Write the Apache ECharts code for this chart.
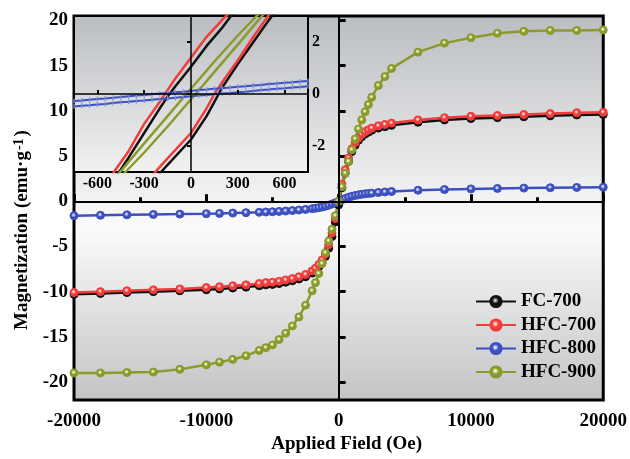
<!DOCTYPE html>
<html>
<head>
<meta charset="utf-8">
<script src="https://cdn.jsdelivr.net/npm/echarts@6/dist/echarts.min.js"></script>
<style>
html, body { margin: 0; padding: 0; background: #fff; width: 630px; height: 459px; overflow: hidden; }
#chart { position: absolute; left: 0; top: 0; width: 630px; height: 459px; }
</style>
</head>
<body>
<div id="chart"></div>
<script>
// main M-H curves (Oe, emu/g)
const fieldMain = [-20000, -18000, -16000, -14000, -12000, -10000, -9000, -8000, -7000, -6000,
    -5500, -5000, -4500, -4000, -3500, -3000, -2500, -2000, -1750, -1500, -1250, -1000, -750, -500, -250,
    0, 250, 500, 750, 1000, 1250, 1500, 1750, 2000, 2250, 2500, 3000, 3500, 4000,
    6000, 8000, 10000, 12000, 14000, 16000, 18000, 20000];

const fc700 = [-10.3, -10.2, -10.1, -10.0, -9.9, -9.8, -9.7, -9.6, -9.5, -9.35,
    -9.25, -9.2, -9.1, -8.95, -8.8, -8.6, -8.35, -7.95, -7.65, -7.25, -6.8, -6.1, -5.2, -3.9, -2.3,
    -0.4, 1.5, 3.1, 4.4, 5.5, 6.2, 6.75, 7.15, 7.45, 7.65, 7.85, 8.1, 8.25, 8.4,
    8.75, 9.0, 9.15, 9.25, 9.35, 9.45, 9.55, 9.6];

const hfc700 = [-10.1, -10.0, -9.9, -9.8, -9.7, -9.55, -9.45, -9.35, -9.25, -9.1,
    -9.0, -8.95, -8.85, -8.7, -8.55, -8.35, -8.1, -7.7, -7.4, -7.0, -6.5, -5.8, -4.8, -3.5, -1.9,
    0, 1.9, 3.5, 4.8, 5.8, 6.5, 7.0, 7.4, 7.7, 7.9, 8.1, 8.35, 8.5, 8.65,
    9.0, 9.25, 9.4, 9.5, 9.6, 9.7, 9.8, 9.85];

const hfc800 = [-1.6, -1.55, -1.5, -1.46, -1.42, -1.37, -1.34, -1.3, -1.26, -1.22,
    -1.19, -1.16, -1.12, -1.08, -1.03, -0.97, -0.9, -0.82, -0.77, -0.71, -0.64, -0.55, -0.44, -0.31, -0.16,
    0, 0.16, 0.31, 0.44, 0.55, 0.64, 0.71, 0.77, 0.82, 0.86, 0.9, 0.97, 1.03, 1.08,
    1.22, 1.3, 1.37, 1.42, 1.46, 1.5, 1.53, 1.56];

const hfc900 = [-19.0, -19.0, -18.95, -18.9, -18.6, -18.1, -17.8, -17.5, -17.1, -16.5,
    -16.2, -15.9, -15.3, -14.6, -13.8, -12.8, -11.5, -9.9, -9.0, -8.0, -6.9, -5.7, -4.4, -3.1, -1.6,
    0, 1.6, 3.1, 4.4, 5.7, 6.9, 8.0, 9.0, 9.9, 10.7, 11.5, 12.8, 13.8, 14.7,
    16.5, 17.5, 18.1, 18.6, 18.8, 18.9, 18.9, 18.95];

// inset loops, [field, M] per branch
const fc700Down = [[300, 3.3], [250, 2.95], [200, 2.55], [100, 1.85], [0, 1.05], [-100, 0.3], [-150, -0.1],
    [-200, -0.55], [-300, -1.5], [-400, -2.45], [-450, -2.9], [-500, -3.3]];
const fc700Up = [[-250, -3.4], [-200, -3.05], [-100, -2.4], [0, -1.75], [100, -0.85], [150, -0.3], [200, 0.25],
    [300, 1.15], [400, 2.0], [500, 2.85], [550, 3.25]];
const hfc700Down = [[250, 3.15], [200, 2.85], [100, 2.2], [0, 1.4], [-100, 0.6], [-150, 0.15], [-200, -0.3],
    [-300, -1.15], [-400, -2.2], [-500, -3.05], [-550, -3.4]];
const hfc700Up = [[-250, -3.15], [-200, -2.8], [-100, -2.15], [0, -1.5], [100, -0.55], [150, 0], [200, 0.45],
    [300, 1.3], [400, 2.2], [500, 3.05], [550, 3.4]];
const hfc900Down = [[500, 3.45], [420, 3.0], [300, 2.25], [150, 1.25], [0, 0.2], [-30, 0], [-150, -0.85],
    [-300, -1.9], [-440, -2.9], [-500, -3.3]];
const hfc900Up = [[-500, -3.45], [-420, -3.0], [-300, -2.25], [-150, -1.25], [0, -0.2], [30, 0], [150, 0.85],
    [300, 1.9], [440, 2.9], [500, 3.3]];

const fieldBlue = [-750, -700, -650, -600, -550, -500, -450, -400, -350, -300, -250, -200, -150, -100, -50,
    0, 50, 100, 150, 200, 250, 300, 350, 400, 450, 500, 550, 600, 650, 700, 750];
const hfc800Down = [-0.27, -0.25, -0.22, -0.19, -0.17, -0.14, -0.12, -0.09, -0.06, -0.04, -0.01, 0.02, 0.04, 0.07, 0.09,
    0.12, 0.15, 0.17, 0.20, 0.22, 0.25, 0.28, 0.30, 0.33, 0.35, 0.38, 0.40, 0.43, 0.45, 0.48, 0.50];
const hfc800Up = [-0.48, -0.45, -0.43, -0.40, -0.38, -0.35, -0.32, -0.30, -0.27, -0.25, -0.22, -0.19, -0.17, -0.14, -0.12,
    -0.09, -0.06, -0.04, -0.01, 0.02, 0.04, 0.07, 0.09, 0.12, 0.15, 0.17, 0.20, 0.22, 0.25, 0.27, 0.30];

const names = ["FC-700", "HFC-700", "HFC-800", "HFC-900"];
const colors = ["#111111", "#f23c3c", "#3c50c0", "#8c9a2c"];
const tints = ["#9a9a9a", "#ffb8b8", "#b8c2f0", "#dde4a8"];

const yTicks = [-20, -15, -10, -5, 0, 5, 10, 15, 20];
const insetXTicks = [-600, -300, 0, 300, 600];
const insetYTicks = [-2, 0, 2];

const serif = "Liberation Serif";

function pairs(xs, ys) {
    return xs.map(function (x, i) { return [x, ys[i]]; });
}

function bead(i) {
    return {
        type: "radial", x: 0.45, y: 0.42, r: 0.55,
        colorStops: [{offset: 0, color: "#ffffff"}, {offset: 0.18, color: tints[i]},
                     {offset: 0.45, color: colors[i]}, {offset: 1, color: colors[i]}]
    };
}

function mainSeries(i, values) {
    return {
        name: names[i], type: "line", xAxisIndex: 0, yAxisIndex: 0, z: 2,
        data: pairs(fieldMain, values),
        symbol: "circle", symbolSize: 8,
        lineStyle: {color: colors[i], width: 2.5},
        itemStyle: {color: bead(i), borderColor: colors[i], borderWidth: 1}
    };
}

function insetSeries(name, i, data) {
    return {
        name: name, type: "line", xAxisIndex: 1, yAxisIndex: 1, z: 4,
        data: data, symbol: "none", clip: true,
        lineStyle: {color: colors[i], width: 2.5}
    };
}

const labelFont = {color: "#000", fontFamily: serif, fontWeight: "bold", fontSize: 19};
const insetFont = {color: "#000", fontFamily: serif, fontWeight: "bold", fontSize: 16};

const series = [
    mainSeries(0, fc700),
    mainSeries(1, hfc700),
    mainSeries(2, hfc800),
    mainSeries(3, hfc900),
    insetSeries("fc700 down", 0, fc700Down),
    insetSeries("fc700 up", 0, fc700Up),
    insetSeries("hfc700 down", 1, hfc700Down),
    insetSeries("hfc700 up", 1, hfc700Up),
    insetSeries("hfc900 down", 3, hfc900Down),
    insetSeries("hfc900 up", 3, hfc900Up),
    insetSeries("hfc800 down", 2, pairs(fieldBlue, hfc800Down)),
    insetSeries("hfc800 up", 2, pairs(fieldBlue, hfc800Up))
];

// zero lines
series[0].markLine = {
    silent: true, symbol: "none", label: {show: false},
    lineStyle: {color: "#000", width: 2, type: "solid"},
    data: [{xAxis: 0}, {yAxis: 0}]
};
series[4].markLine = {
    silent: true, symbol: "none", label: {show: false},
    lineStyle: {color: "#000", width: 1.5, type: "solid"},
    data: [{xAxis: 0}, {yAxis: 0}]
};
// tiny tick-like markers on the blue inset loop
[10, 11].forEach(function (k) {
    series[k].symbol = "rect";
    series[k].symbolSize = [1.2, 5];
    series[k].lineStyle.width = 2;
    series[k].itemStyle = {color: "#8090e0"};
});

const chart = echarts.init(document.getElementById("chart"));
chart.setOption({
    animation: false,
    backgroundColor: "#ffffff",
    grid: [
        {
            left: 74, right: 25, top: 16, bottom: 52, z: 0, show: true,
            borderColor: "#000", borderWidth: 3,
            backgroundColor: {
                type: "linear", x: 0, y: 0, x2: 0, y2: 1,
                colorStops: [{offset: 0, color: "#babdc1"}, {offset: 0.55, color: "#fbfbfb"},
                             {offset: 1, color: "#c2c3c5"}]
            }
        },
        {
            left: 74, top: 16, width: 234, height: 156, z: 3, show: true,
            borderColor: "#000", borderWidth: 2,
            backgroundColor: {
                type: "linear", x: 0, y: 0, x2: 0, y2: 1,
                colorStops: [{offset: 0, color: "#babdc1"}, {offset: 1, color: "#f2f2f2"}]
            }
        }
    ],
    legend: {
        left: 470, top: 287, orient: "vertical",
        itemWidth: 40, itemHeight: 14, itemGap: 4.5,
        textStyle: {color: "#000", fontFamily: serif, fontWeight: "bold", fontSize: 19, lineHeight: 19},
        data: names
    },
    xAxis: [
        {
            gridIndex: 0, type: "value", min: -20000, max: 20000, interval: 10000, z: 1,
            axisLine: {show: false}, splitLine: {show: false},
            axisTick: {inside: true, length: 7, lineStyle: {color: "#000", width: 3}},
            minorTick: {show: true, splitNumber: 2, length: 4, lineStyle: {color: "#000", width: 3}},
            axisLabel: Object.assign({margin: 11, formatter: function (v) { return String(v); }}, labelFont),
            name: "Applied Field (Oe)", nameLocation: "middle", nameGap: 31,
            nameTextStyle: Object.assign({padding: [0, 0, 0, 16]}, labelFont)
        },
        {
            gridIndex: 1, type: "value", min: -750, max: 750, z: 5,
            axisLine: {show: false}, splitLine: {show: false},
            axisTick: {inside: true, length: 4, customValues: insetXTicks, lineStyle: {color: "#000", width: 2}},
            axisLabel: Object.assign({margin: 4, customValues: insetXTicks}, insetFont)
        }
    ],
    yAxis: [
        {
            gridIndex: 0, type: "value", min: -22, max: 20.5, z: 1,
            axisLine: {show: false}, splitLine: {show: false},
            axisTick: {inside: true, length: 7, customValues: yTicks, lineStyle: {color: "#000", width: 3}},
            axisLabel: Object.assign({margin: 6, customValues: yTicks}, labelFont),
            name: "Magnetization (emu·g{sup|-1})", nameLocation: "middle", nameGap: 42,
            nameTextStyle: Object.assign({
                padding: [0, 44, 0, 0],
                rich: {sup: {fontSize: 14, fontFamily: serif, fontWeight: "bold", color: "#000",
                             verticalAlign: "top", padding: [0, 2, 0, 1]}}
            }, labelFont)
        },
        {
            gridIndex: 1, type: "value", position: "right", min: -3, max: 3, z: 5,
            axisLine: {show: false}, splitLine: {show: false},
            axisTick: {inside: true, length: 4, customValues: insetYTicks, lineStyle: {color: "#000", width: 2}},
            axisLabel: Object.assign({margin: 4, customValues: insetYTicks}, insetFont)
        }
    ],
    series: series
});
</script>
</body>
</html>
